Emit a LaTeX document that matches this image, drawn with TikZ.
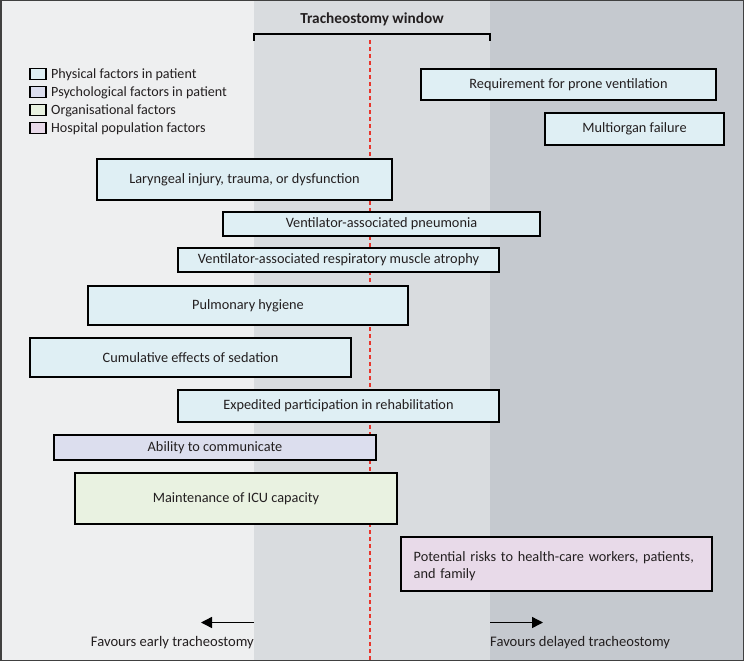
\documentclass[tikz,border=0pt]{standalone}
\usepackage{fontspec}
\setmainfont{Carlito}
\usetikzlibrary{arrows.meta}
\definecolor{bgL}{HTML}{EEEFF0}
\definecolor{bgM}{HTML}{D9DCDF}
\definecolor{bgR}{HTML}{C5C9CF}
\definecolor{physc}{HTML}{DFEFF4}
\definecolor{psychc}{HTML}{DCDEEE}
\definecolor{orgc}{HTML}{E9F2E1}
\definecolor{hospc}{HTML}{E8DAE9}
\definecolor{redl}{HTML}{E8352C}
\definecolor{txt}{HTML}{231F20}
\tikzset{
  fbox/.style={draw=black, line width=1.4pt, inner sep=0pt, font=\fontsize{14.3}{17}\selectfont, text=txt},
  phys/.style={fbox, fill=physc},
  psych/.style={fbox, fill=psychc},
  org/.style={fbox, fill=orgc},
  hosp/.style={fbox, fill=hospc},
  legsq/.style={draw=black, line width=1.2pt, minimum width=16pt, minimum height=11pt, inner sep=0pt},
  legtxt/.style={anchor=west, inner sep=0pt, font=\fontsize{14.1}{16}\selectfont, text=txt},
  bottxt/.style={inner sep=0pt, font=\fontsize{14.6}{17}\selectfont, text=txt},
  arr/.style={line width=1.4pt, -{Triangle[length=11pt,width=11pt]}}
}
\begin{document}
\begin{tikzpicture}[x=1pt,y=-1pt]
\useasboundingbox (0,0) rectangle (744,661);
% backgrounds
\fill[bgL] (0,0) rectangle (254,661);
\fill[bgM] (254,0) rectangle (490,661);
\fill[bgR] (490,0) rectangle (744,661);
\draw[draw=black!75, line width=1.5pt] (0.75,0.75) rectangle (743.25,660.25);
% title and bracket
\node[font=\bfseries\fontsize{15.3}{18}\selectfont, text=txt, inner sep=0pt] (title) at (372,19) {Tracheostomy window};
\coordinate (bl) at (254,41);
\coordinate (br) at (490,41);
\draw[line width=1.4pt] (bl) -- ++(0,-7) -| (br);
% red dashed line
\coordinate (rtop) at (370,40);
\coordinate (rbot) at (370,661);
\draw[redl, line width=1.3pt, dash pattern=on 4pt off 3pt] (rtop) -- (rbot);
% legend
\node[legsq, fill=physc] (l1) at (38,74) {};
\node[legtxt] (t1) at (51,75) {Physical factors in patient};
\node[legsq, fill=psychc] (l2) at (38,92) {};
\node[legtxt] (t2) at (51,93) {Psychological factors in patient};
\node[legsq, fill=orgc] (l3) at (38,110) {};
\node[legtxt] (t3) at (51,111) {Organisational factors};
\node[legsq, fill=hospc] (l4) at (38,128) {};
\node[legtxt] (t4) at (51,129) {Hospital population factors};
% boxes
\node[phys, minimum width=295pt, minimum height=31pt] (prone) at (568.5,84.5) {Requirement for prone ventilation};
\node[phys, minimum width=179pt, minimum height=32pt] (multi) at (634.5,129) {Multiorgan failure};
\node[phys, minimum width=295pt, minimum height=41pt] (laryn) at (244.5,179.5) {Laryngeal injury, trauma, or dysfunction};
\node[phys, minimum width=317pt, minimum height=24pt] (vap) at (381.5,224) {Ventilator-associated pneumonia};
\node[phys, minimum width=321pt, minimum height=24pt] (atro) at (338.5,260) {Ventilator-associated respiratory muscle atrophy};
\node[phys, minimum width=320pt, minimum height=39pt] (pulm) at (248,305.5) {Pulmonary hygiene};
\node[phys, minimum width=321pt, minimum height=39pt] (seda) at (190.5,357.5) {Cumulative effects of sedation};
\node[phys, minimum width=321pt, minimum height=32pt] (rehab) at (338.5,406) {Expedited participation in rehabilitation};
\node[psych, minimum width=322pt, minimum height=25pt] (comm) at (215,447.5) {Ability to communicate};
\node[org, minimum width=322pt, minimum height=51pt] (icu) at (236,498.5) {Maintenance of ICU capacity};
\node[hosp, minimum width=311pt, minimum height=54pt] (risk) at (556.5,564) {};
\node[fbox, draw=none, anchor=north west, align=left, text width=300pt, font=\fontsize{14.3}{16.5}\selectfont] (risktxt) at (413,551) {Potential risks to health-care workers, patients,\\and family};
% bottom arrows and labels
\coordinate (aL0) at (254,622.5);
\coordinate (aL1) at (201,622.5);
\coordinate (aR0) at (490,622.5);
\coordinate (aR1) at (543,622.5);
\draw[arr] (aL0) -- (aL1);
\draw[arr] (aR0) -- (aR1);
\node[bottxt, anchor=east] (early) at (254,643) {Favours early tracheostomy};
\node[bottxt, anchor=west] (late) at (490,643) {Favours delayed tracheostomy};
\end{tikzpicture}
\end{document}
